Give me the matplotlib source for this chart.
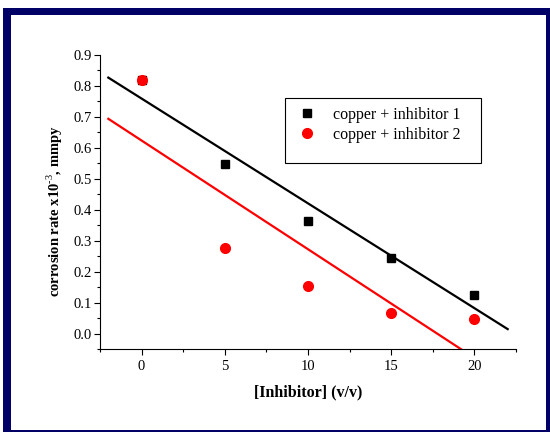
import numpy as np
import matplotlib.pyplot as plt
from matplotlib.patches import Rectangle

# data
conc = [0, 5, 10, 15, 20]
rate_inh1 = [0.82, 0.548, 0.365, 0.245, 0.125]
rate_inh2 = [0.82, 0.275, 0.155, 0.065, 0.047]
label1 = 'copper + inhibitor 1'
label2 = 'copper + inhibitor 2'

W, H = 550, 432
plt.rcParams['font.family'] = ['Liberation Serif', 'DejaVu Serif']
plt.rcParams['mathtext.fontset'] = 'custom'
plt.rcParams['mathtext.rm'] = 'Liberation Serif'
plt.rcParams['mathtext.bf'] = 'Liberation Serif:bold'
fig = plt.figure(figsize=(W / 100, H / 100), dpi=100)

# navy frame around the plot
fig.patches.append(Rectangle((3 / W, 0), 547 / W, 424 / H, transform=fig.transFigure,
                             facecolor='#000066', edgecolor='none', zorder=-2))
fig.patches.append(Rectangle((11 / W, 2 / H), 535 / W, 415 / H, transform=fig.transFigure,
                             facecolor='white', edgecolor='none', zorder=-1))

ax = fig.add_axes([100 / W, (H - 349) / H, 416 / W, 294 / H])
ax.patch.set_alpha(0)

# linear fits
xfit = np.array([-2, 22])
p1 = np.polyfit(conc, rate_inh1, 1)
p2 = np.polyfit(conc, rate_inh2, 1)
ax.plot(xfit, np.polyval(p1, xfit), color='black', lw=1.6)
ax.plot(xfit, np.polyval(p2, xfit), color='red', lw=1.6)

ax.plot(conc, rate_inh1, 's', color='black', ms=5.5, label=label1)
ax.plot(conc, rate_inh2, 'o', color='red', ms=7, label=label2)

ax.set_xlim(-2.5, 22.5)
ax.set_ylim(-0.05, 0.9)
ax.set_xticks([0, 5, 10, 15, 20])
ax.set_xticks(np.arange(-2.5, 22.6, 2.5), minor=True)
ax.set_yticks(np.arange(0, 0.91, 0.1))
ax.set_yticks(np.arange(-0.05, 0.91, 0.05), minor=True)
ax.set_yticklabels([f'{v:.1f}' for v in np.arange(0, 0.91, 0.1)])
ax.tick_params(direction='out', labelsize=10.5, length=4.5, width=0.8)
ax.tick_params(axis='y', pad=1.5)
ax.tick_params(which='minor', direction='out', length=2.5, width=0.8)
for s in ['top', 'right']:
    ax.spines[s].set_visible(False)

ax.set_xlabel('[Inhibitor] (v/v)', fontsize=11.5, fontweight='bold')
ax.xaxis.set_label_coords(0.5, -0.12)
ax.set_ylabel(r'corrosion rate x10$^{\mathbf{\text{-3}}}$, mmpy', fontsize=10.5, fontweight='bold')
ax.yaxis.set_label_coords(-0.085, 0.47)

# legend box drawn separately (the original has extra space below the entries)
ax.add_patch(Rectangle(((285 - 100) / 416, (349 - 163) / 294), 196 / 416, 65 / 294,
                       transform=ax.transAxes, facecolor='white', edgecolor='black',
                       lw=0.8, zorder=4))
leg = ax.legend(loc='upper left', bbox_to_anchor=((291 - 100) / 416, (349 - 107) / 294),
                fontsize=11.5, frameon=False, borderpad=0, borderaxespad=0,
                handlelength=2.0, handletextpad=0.6, labelspacing=0.22)
leg.set_zorder(5)

fig.savefig('out.png', dpi=100)
